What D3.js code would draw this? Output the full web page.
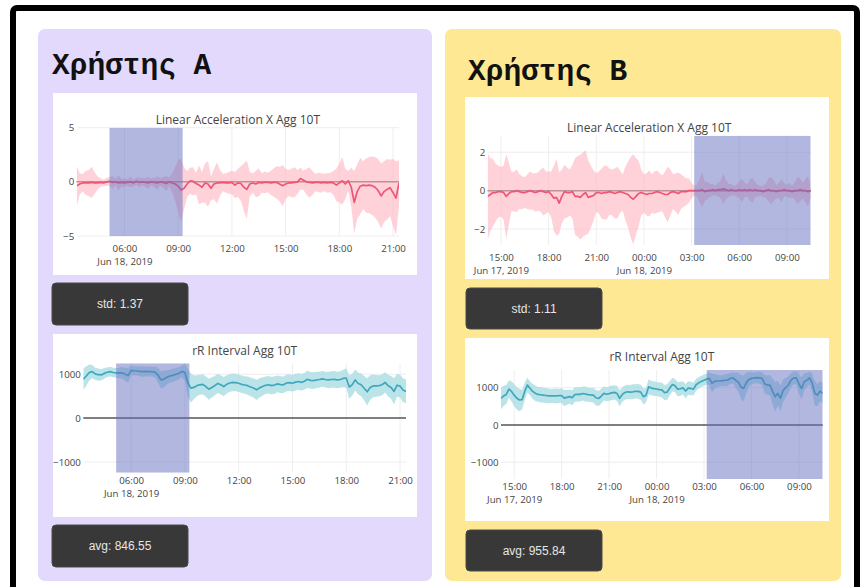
<!DOCTYPE html>
<html>
<head>
<meta charset="utf-8">
<script src="https://cdn.jsdelivr.net/npm/d3@7"></script>
<style>
  html, body { margin: 0; padding: 0; background: #fff; }
  svg { display: block; }
</style>
</head>
<body>
<svg id="page" width="866" height="587"></svg>
<script>
// ---------- data: 10-minute aggregates (mean and standard deviation) ----------

// User A, starting Jun 18 2019 03:20
const startA = "2019-06-18T03:20:00";
const accelA_mean = [
  -0.37,-0.2,-0.1,-0.1,-0.1,-0.05,-0.1,-0.1,-0.05,-0.1,
  0,0.05,-0.05,0,-0.1,-0.05,-0.1,-0.05,0,-0.1,
  0.05,-0.05,0,-0.05,-0.1,0,-0.05,-0.1,0,-0.05,
  -0.15,0,-0.1,-0.2,-0.4,-0.75,-0.6,-0.2,0.1,0.05,
  -0.15,-0.3,-0.5,-0.1,-0.2,-0.6,-0.2,-0.1,-0.1,-0.05,
  -0.1,-0.1,-0.05,-0.3,-0.1,-0.15,-0.5,-0.7,-0.2,-0.1,
  -0.2,-0.05,-0.1,-0.05,-0.05,-0.1,-0.05,-0.05,-0.2,-0.35,
  -0.2,-0.1,-0.1,-0.05,0,0.3,0.15,0,-0.05,-0.1,
  -0.05,-0.05,-0.1,-0.05,-0.1,-0.05,-0.1,-0.3,-0.1,0.1,
  -0.2,0.1,-0.5,-1.9,-0.9,-0.4,-0.3,-0.35,-0.3,-0.35,
  -0.5,-0.8,-1.3,-0.9,-0.7,-0.55,-1.0,-1.5,-0.1
];
const accelA_std = [
  1.85,1.0,0.8,1.1,1.2,1.45,1.0,0.6,0.4,0.3,
  0.35,0.4,0.6,0.3,0.7,0.35,0.4,0.3,0.5,0.3,
  0.35,0.45,0.3,0.4,0.55,0.3,0.45,0.6,0.35,0.5,
  0.7,0.4,0.9,1.6,2.4,2.9,1.9,1.2,1.2,1.3,
  1.0,1.8,1.4,1.8,2.1,1.1,1.4,1.9,1.2,0.8,
  0.9,1.0,1.1,1.2,1.3,1.6,2.2,2.7,1.1,0.9,
  1.2,1.3,0.9,1.0,0.9,1.1,1.3,1.5,1.6,1.9,
  1.4,1.2,1.3,1.4,1.1,1.0,0.9,1.2,1.4,1.1,
  0.8,0.9,0.9,0.8,0.9,0.9,1.1,1.5,1.8,2.2,
  1.4,0.9,1.8,2.9,2.5,2.6,2.2,2.5,2.6,2.7,
  2.8,2.9,3.0,2.8,2.8,2.6,3.1,3.4,2.1
];
const rrA_mean = [
  886,960,1040,1060,1010,990,985,1020,1045,1060,
  1040,1030,1030,1035,1000,970,1090,1080,1075,1065,
  1060,1065,1060,1060,1050,980,870,890,930,960,
  975,1000,1020,1065,1040,800,685,700,740,760,
  770,720,660,700,740,790,760,720,770,800,
  815,810,795,770,755,740,710,685,645,690,
  720,750,760,740,755,780,765,760,800,810,
  795,820,835,815,840,885,860,855,870,880,
  895,880,870,880,885,870,880,905,915,710,
  760,870,790,760,680,600,700,735,735,740,
  760,815,740,700,610,750,730,640,610
];
const rrA_std = [
  245,220,180,150,140,140,130,120,110,110,
  110,110,120,130,150,170,110,100,100,110,
  120,110,110,110,120,170,200,190,160,150,
  150,140,140,130,200,320,330,270,240,230,
  230,230,240,230,220,220,220,220,210,200,
  200,200,200,200,200,210,210,220,230,220,
  210,200,200,200,200,190,190,190,190,190,
  190,190,190,190,190,200,190,190,190,180,
  180,180,190,190,190,190,190,200,220,270,
  250,240,250,260,280,310,280,260,250,240,
  240,230,250,260,300,260,260,270,270
];
const highlightA = ["2019-06-18T05:10:00", "2019-06-18T09:15:00"];
const xTicksA = ["2019-06-18T06:00:00","2019-06-18T09:00:00","2019-06-18T12:00:00",
                 "2019-06-18T15:00:00","2019-06-18T18:00:00","2019-06-18T21:00:00"];

// User B, starting Jun 17 2019 14:10
const startB = "2019-06-17T14:10:00";
const accelB_mean = [
  -0.3,-0.2,-0.1,-0.1,-0.05,-0.05,-0.1,-0.3,-0.15,-0.05,
  -0.05,0,-0.05,-0.1,-0.1,-0.05,0,-0.05,-0.1,-0.05,
  0,-0.05,-0.1,-0.05,-0.2,-0.4,-0.35,-0.65,-0.3,-0.05,
  -0.1,-0.1,-0.05,-0.3,-0.3,-0.35,-0.2,-0.1,-0.35,-0.3,
  -0.25,-0.1,-0.1,-0.15,-0.1,-0.1,-0.05,-0.1,-0.15,-0.1,
  -0.05,-0.1,-0.15,-0.2,-0.35,-0.45,-0.3,-0.15,-0.1,-0.15,
  -0.2,-0.15,-0.15,-0.1,-0.05,-0.1,-0.15,-0.2,-0.2,-0.1,
  -0.05,-0.1,-0.15,-0.05,-0.05,-0.05,0,0,0,0,
  0,0.05,-0.05,0,0,0.05,0,0.05,0.05,0.1,
  0.05,0,0.05,0,0,0.05,0,0.05,0,0.05,
  0,0.05,0,0,-0.05,0,0.05,0,0,-0.05,
  0,0,0.05,0,0,-0.05,0,0,0.05,0,
  0,-0.05,0
];
const accelB_std = [
  2.26,1.9,1.75,1.5,1.35,1.3,1.4,2.2,1.6,1.0,
  1.05,1.1,0.9,0.85,0.8,0.9,1.0,0.95,1.0,1.0,
  1.1,1.25,1.1,1.05,1.2,1.7,2.0,1.6,1.4,1.4,
  1.3,1.2,1.4,2.0,2.1,2.2,2.2,2.2,1.9,1.6,
  1.3,1.0,1.1,1.3,1.4,1.4,1.2,1.2,1.3,1.35,
  1.1,0.95,1.4,1.7,2.1,2.35,2.0,1.7,1.2,1.0,
  1.1,1.2,1.0,1.1,1.1,1.0,0.95,1.2,1.45,1.2,
  0.9,1.0,1.1,0.9,0.8,0.7,0.65,0.4,0.25,0.3,
  0.6,0.9,0.5,0.45,0.35,0.3,0.25,0.35,0.45,0.8,
  0.5,0.35,0.3,0.25,0.3,0.45,0.6,0.4,0.3,0.55,
  0.65,0.4,0.3,0.25,0.3,0.35,0.6,0.7,0.55,0.35,
  0.4,0.6,0.35,0.3,0.4,0.3,0.45,0.7,0.6,0.4,
  0.6,0.8,0.35
];
const rrB_mean = [
  714,780,820,960,900,800,715,670,680,900,
  1070,985,900,850,820,810,800,790,780,778,
  780,778,785,786,720,740,760,730,815,820,
  820,845,830,815,805,800,730,710,770,848,
  825,840,860,875,845,714,820,870,890,880,
  890,905,900,880,760,800,1025,990,975,965,
  950,940,870,880,990,1085,1055,960,970,995,
  910,990,980,960,1080,1130,1170,1200,1230,1250,
  1120,1170,1180,1180,1190,1200,1205,1250,1260,1200,
  1150,1020,980,1130,1220,1250,1260,1270,1265,1250,
  1100,1070,1070,900,760,850,715,930,1000,1080,
  1205,1265,1265,1100,980,1160,1200,1265,1130,850,
  800,910,850
];
const rrB_std = [
  290,270,260,230,270,300,300,300,260,230,
  200,190,200,210,200,210,200,200,200,190,
  190,200,190,200,220,200,190,200,200,190,
  190,190,200,190,190,200,210,200,200,190,
  190,190,200,190,200,220,200,190,190,190,
  200,190,200,200,220,200,200,190,200,190,
  190,200,200,210,190,180,180,190,190,180,
  190,180,180,170,160,150,150,150,150,180,
  250,200,170,150,150,160,160,150,150,200,
  250,320,350,280,200,160,150,150,160,170,
  250,260,270,350,400,330,350,300,260,230,
  190,170,180,260,300,230,200,170,250,330,
  300,270,280
];
const highlightB = ["2019-06-18T03:10:00", "2019-06-18T10:30:00"];
const xTicksB = ["2019-06-17T15:00:00","2019-06-17T18:00:00","2019-06-17T21:00:00",
                 "2019-06-18T00:00:00","2019-06-18T03:00:00","2019-06-18T06:00:00",
                 "2019-06-18T09:00:00"];

// y ticks per metric
const accelTicksA = [-5, 0, 5];
const accelTicksB = [-2, 0, 2];
const rrTicks = [-1000, 0, 1000];

// summary figures shown under each chart
const summaryA = ["std: 1.37", "avg: 846.55"];
const summaryB = ["std: 1.11", "avg: 955.84"];
const users = ["Χρήστης A", "Χρήστης B"];
const chartTitles = ["Linear Acceleration X Agg 10T", "rR Interval Agg 10T"];

// ---------- styling ----------
const ACCEL = { line: "#ee5577", band: "#ffb6c1", bandOpacity: 0.62 };
const RR    = { line: "#3fa8bf", band: "#a8dce3", bandOpacity: 0.78 };
const HIGHLIGHT = { fill: "#6470bf", opacity: 0.5 };
const TICK_FONT = "'Open Sans', sans-serif";
const TICK_SIZE = 9.7;

const svg = d3.select("#page");
const parse = s => new Date(s);

// outer frame
svg.append("rect")
  .attr("x", 13).attr("y", 8).attr("width", 844).attr("height", 620)
  .attr("rx", 4)
  .attr("fill", "#fff").attr("stroke", "#000").attr("stroke-width", 6);

// user panels
const panels = [
  { x: 38, y: 29, w: 394, h: 552, fill: "#e2d9fc", title: users[0], tx: 52, ty: 74 },
  { x: 445, y: 29, w: 396, h: 552, fill: "#fee894", title: users[1], tx: 468, ty: 80 }
];
panels.forEach(p => {
  svg.append("rect").attr("x", p.x).attr("y", p.y).attr("width", p.w).attr("height", p.h)
    .attr("rx", 7).attr("fill", p.fill);
  svg.append("text").attr("x", p.tx).attr("y", p.ty)
    .attr("font-family", "'Liberation Mono', 'Courier New', monospace")
    .attr("font-weight", "bold").attr("font-size", 29.5).attr("fill", "#111")
    .text(p.title);
});

const fmtHour = d3.timeFormat("%H:%M");
const fmtDay = d3.timeFormat("%b %d, %Y");

function drawChart(cfg) {
  const g = svg.append("g");
  const { box, plot } = cfg;
  g.append("rect").attr("x", box.x).attr("y", box.y).attr("width", box.w).attr("height", box.h)
    .attr("fill", "#fff");

  const rows = cfg.mean.map((m, i) => ({
    t: d3.timeMinute.offset(parse(cfg.start), 10 * i), m, s: cfg.std[i]
  }));

  const x = d3.scaleTime()
    .domain([rows[0].t, rows[rows.length - 1].t])
    .range([plot.l, plot.r]);
  const y = d3.scaleLinear().domain(cfg.yDomain).range([plot.b, plot.t]);

  const clipId = "clip" + cfg.id;
  g.append("clipPath").attr("id", clipId).append("rect")
    .attr("x", plot.l).attr("y", plot.t).attr("width", plot.r - plot.l).attr("height", plot.b - plot.t);

  const xTicks = cfg.xTicks.map(parse);

  // grid
  g.append("g").selectAll("line").data(xTicks).join("line")
    .attr("x1", d => x(d)).attr("x2", d => x(d)).attr("y1", plot.t).attr("y2", plot.b)
    .attr("stroke", "#eee").attr("stroke-width", 1);
  g.append("g").selectAll("line").data(cfg.yTicks.filter(v => v !== 0)).join("line")
    .attr("x1", plot.l).attr("x2", plot.r).attr("y1", d => y(d)).attr("y2", d => y(d))
    .attr("stroke", "#eee").attr("stroke-width", 1);

  // zero line
  g.append("line").attr("x1", plot.l).attr("x2", plot.r).attr("y1", y(0)).attr("y2", y(0))
    .attr("stroke", "#555").attr("stroke-width", 1.5);

  const data = g.append("g").attr("clip-path", `url(#${clipId})`);
  data.append("path").datum(rows)
    .attr("d", d3.area().x(d => x(d.t)).y0(d => y(d.m - d.s)).y1(d => y(d.m + d.s)))
    .attr("fill", cfg.style.band).attr("fill-opacity", cfg.style.bandOpacity);
  data.append("path").datum(rows)
    .attr("d", d3.line().x(d => x(d.t)).y(d => y(d.m)))
    .attr("fill", "none").attr("stroke", cfg.style.line).attr("stroke-width", 1.7)
    .attr("stroke-linejoin", "round");

  // highlighted period
  const h0 = parse(cfg.highlight[0]), h1 = parse(cfg.highlight[1]);
  data.append("rect")
    .attr("x", x(h0)).attr("width", x(h1) - x(h0))
    .attr("y", plot.t).attr("height", plot.b - plot.t)
    .attr("fill", HIGHLIGHT.fill).attr("fill-opacity", HIGHLIGHT.opacity);

  // axes
  const xAxis = g.append("g").attr("transform", `translate(0,${plot.b})`)
    .call(d3.axisBottom(x).tickValues(xTicks).tickSize(0).tickPadding(cfg.tickDy - 3.4)
      .tickFormat(fmtHour));
  xAxis.select(".domain").remove();
  // date line under the first tick and under each new day
  xAxis.selectAll(".tick").each(function (d, i) {
    if (i === 0 || d.getHours() === 0) {
      d3.select(this).append("text")
        .attr("class", "date-label")
        .attr("y", cfg.tickDy + 13.2).attr("dy", "0.35em")
        .attr("text-anchor", "middle").attr("fill", "#444")
        .text(fmtDay(d));
    }
  });

  const yAxis = g.append("g").attr("transform", `translate(${plot.l},0)`)
    .call(d3.axisLeft(y).tickValues(cfg.yTicks).tickSize(0).tickPadding(2.5)
      .tickFormat(d3.format("d")));
  yAxis.select(".domain").remove();

  g.selectAll(".tick text")
    .attr("font-family", TICK_FONT).attr("font-size", TICK_SIZE).attr("fill", "#444");

  g.append("text")
    .attr("x", (plot.l + plot.r) / 2).attr("y", box.y + cfg.titleDy).attr("dy", "0.35em")
    .attr("text-anchor", "middle")
    .attr("font-family", TICK_FONT).attr("font-size", 12).attr("fill", "#444")
    .text(cfg.title);
}

function drawButton(bx, label) {
  svg.append("rect").attr("x", bx.x).attr("y", bx.y).attr("width", bx.w).attr("height", bx.h)
    .attr("rx", 4).attr("fill", "#383838").attr("stroke", "#4a4a4a").attr("stroke-width", 1);
  svg.append("text").attr("x", bx.x + bx.w / 2).attr("y", bx.y + bx.h / 2).attr("dy", "0.35em")
    .attr("text-anchor", "middle")
    .attr("font-family", "'Liberation Sans', Arial, sans-serif").attr("font-size", 12)
    .attr("fill", "#e6e6e6").text(label);
}

drawChart({
  id: "A1", title: chartTitles[0], start: startA, mean: accelA_mean, std: accelA_std,
  box: { x: 53, y: 93, w: 364, h: 182 }, plot: { l: 76.7, r: 399, t: 127.7, b: 236 },
  yDomain: [-5, 5], yTicks: accelTicksA, xTicks: xTicksA, highlight: highlightA,
  style: ACCEL, tickDy: 12.3, titleDy: 26.3
});
drawButton({ x: 52, y: 283, w: 136, h: 42 }, summaryA[0]);

drawChart({
  id: "A2", title: chartTitles[1], start: startA, mean: rrA_mean, std: rrA_std,
  box: { x: 53, y: 334, w: 364, h: 183 }, plot: { l: 83.3, r: 406, t: 363.3, b: 472.7 },
  yDomain: [-1245, 1250], yTicks: rrTicks, xTicks: xTicksA, highlight: highlightA,
  style: RR, tickDy: 7.5, titleDy: 16.7
});
drawButton({ x: 52, y: 525, w: 136, h: 42 }, summaryA[1]);

drawChart({
  id: "B1", title: chartTitles[0], start: startB, mean: accelB_mean, std: accelB_std,
  box: { x: 465, y: 97, w: 364, h: 182 }, plot: { l: 487.7, r: 810.7, t: 135.7, b: 245 },
  yDomain: [-2.83, 2.86], yTicks: accelTicksB, xTicks: xTicksB, highlight: highlightB,
  style: ACCEL, tickDy: 12.3, titleDy: 30.7
});
drawButton({ x: 466, y: 288, w: 136, h: 41 }, summaryB[0]);

drawChart({
  id: "B2", title: chartTitles[1], start: startB, mean: rrB_mean, std: rrB_std,
  box: { x: 465, y: 338, w: 364, h: 183 }, plot: { l: 501, r: 822.7, t: 370, b: 479 },
  yDomain: [-1450, 1475], yTicks: rrTicks, xTicks: xTicksB, highlight: highlightB,
  style: RR, tickDy: 7.7, titleDy: 18.7
});
drawButton({ x: 466, y: 530, w: 136, h: 41 }, summaryB[1]);
</script>
</body>
</html>
